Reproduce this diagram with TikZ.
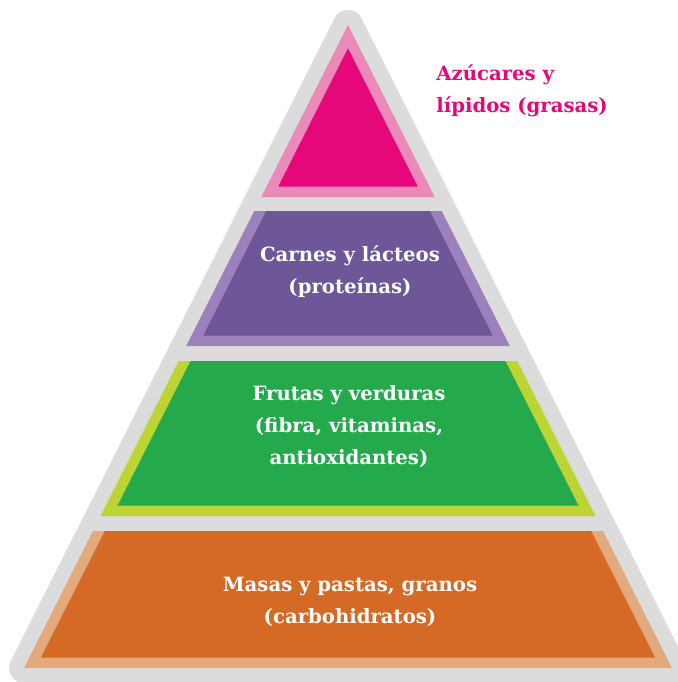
\documentclass[tikz,border=0pt]{standalone}
\usepackage{fontspec}
\setmainfont{DejaVu Serif}

\definecolor{gris}{RGB}{220,220,220}
\definecolor{rosa}{RGB}{230,8,122}
\definecolor{rosaclaro}{RGB}{234,138,185}
\definecolor{morado}{RGB}{109,87,153}
\definecolor{moradoclaro}{RGB}{156,129,189}
\definecolor{verde}{RGB}{36,170,76}
\definecolor{verdeclaro}{RGB}{190,212,52}
\definecolor{naranja}{RGB}{213,106,39}
\definecolor{naranjaclaro}{RGB}{227,170,126}

\begin{document}
\begin{tikzpicture}[x=0.02cm, y=-0.02cm,
	bandtext/.style={text=white, font=\bfseries\fontsize{11.2}{18.2}\selectfont, align=center, inner sep=0pt}]

	\useasboundingbox (0, 0) rectangle (677, 682);

	% marco gris
	\filldraw[gris, line width=0.6cm, line join=round] (348, 25) -- (24, 668) -- (672, 668) -- cycle;

	% azucares
	\fill[rosaclaro] (348, 25) -- (261.3, 197) -- (434.7, 197) -- cycle;
		\fill[rosa] (348, 48.3) -- (278.3, 186.5) -- (417.7, 186.5) -- cycle;
	% carnes
	\fill[moradoclaro] (254.3, 211) -- (186.2, 346) -- (509.8, 346) -- (441.7, 211) -- cycle;
		\fill[morado] (266.1, 211) -- (203.3, 335.5) -- (492.7, 335.5) -- (429.9, 211) -- cycle;
	% frutas
	\fill[verdeclaro] (178.7, 361) -- (100.5, 516) -- (595.5, 516) -- (517.3, 361) -- cycle;
		\fill[verde] (190.5, 361) -- (117.6, 505.5) -- (578.4, 505.5) -- (505.5, 361) -- cycle;
	% masas
	\fill[naranjaclaro] (93, 531) -- (24, 668) -- (672, 668) -- (603, 531) -- cycle;
		\fill[naranja] (104.8, 531) -- (41, 657.5) -- (655, 657.5) -- (591.2, 531) -- cycle;


	\node[bandtext, text=rosa, align=left, anchor=west] (azucares) at(436, 91){Azúcares y\\lípidos (grasas)};
	\node[bandtext] (carnes) at(350, 272){Carnes y lácteos\\(proteínas)};
	\node[bandtext] (frutas) at(349, 427){Frutas y verduras\\(fibra, vitaminas,\\antioxidantes)};
	\node[bandtext] (masas) at(350, 602){Masas y pastas, granos\\(carbohidratos)};

\end{tikzpicture}
\end{document}
